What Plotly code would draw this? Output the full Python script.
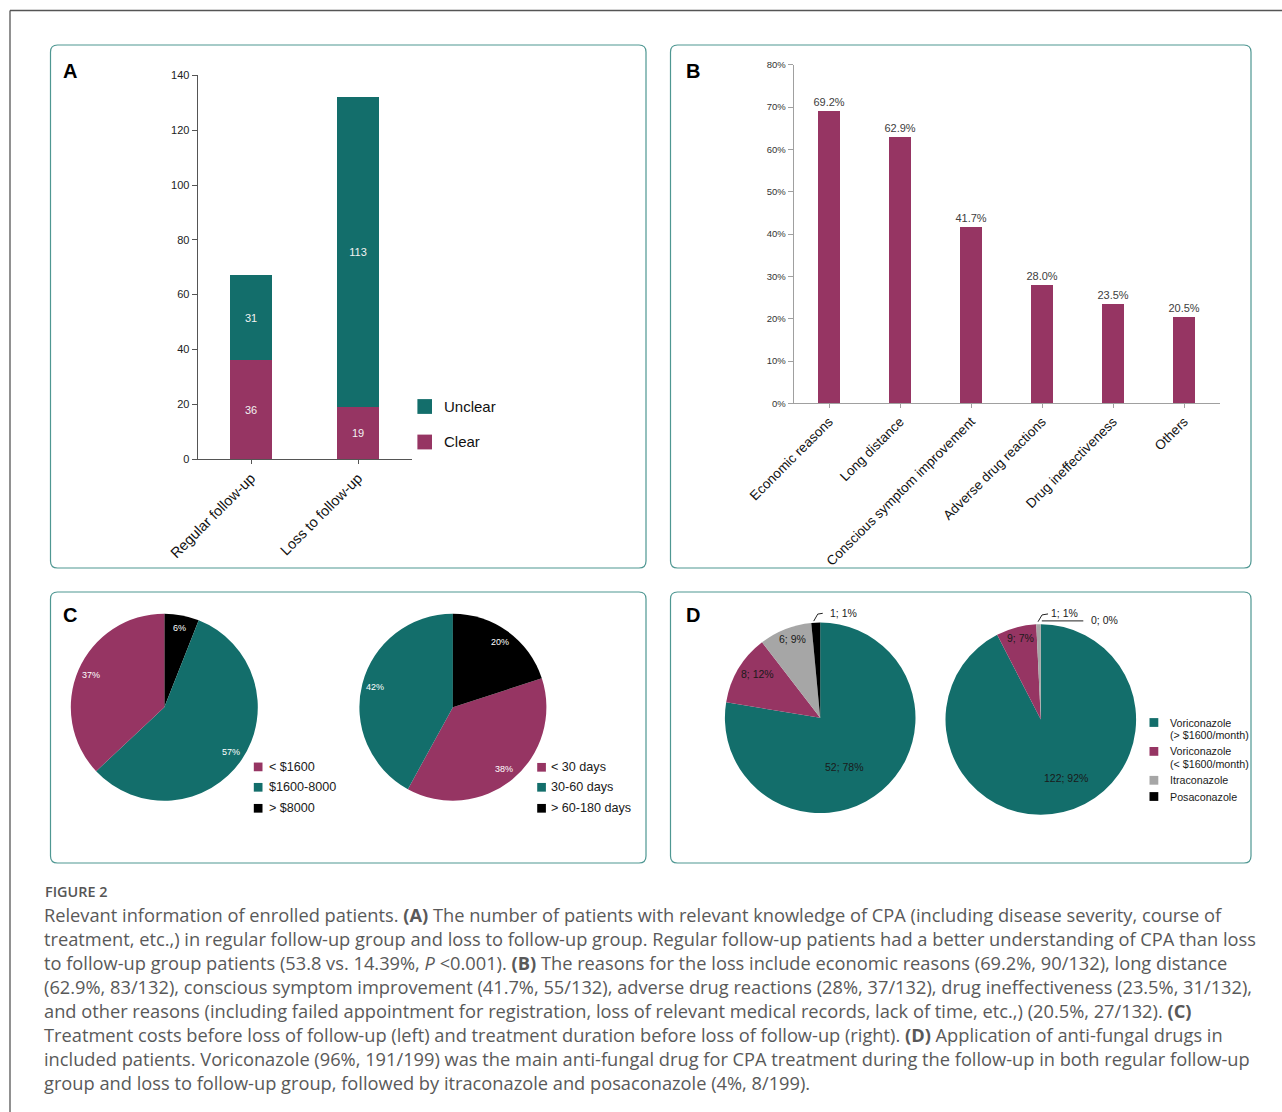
import math
import plotly.graph_objects as go

W, H = 1282, 1112

# ---------------- data ----------------
a_groups = ["Regular follow-up", "Loss to follow-up"]
a_clear = [36, 19]
a_unclear = [31, 113]

b_reasons = ["Economic reasons", "Long distance", "Conscious symptom improvement",
             "Adverse drug reactions", "Drug ineffectiveness", "Others"]
b_share = [0.692, 0.629, 0.417, 0.280, 0.235, 0.205]

c_cost_labels = ["&lt; $1600", "$1600-8000", "&gt; $8000"]
c_cost_pct = [37, 57, 6]
c_dur_labels = ["&lt; 30 days", "30-60 days", "&gt; 60-180 days"]
c_dur_pct = [38, 42, 20]

d_drug_labels = ["Voriconazole<br>(&gt; $1600/month)", "Voriconazole<br>(&lt; $1600/month)",
                 "Itraconazole", "Posaconazole"]
d_regular = [52, 8, 6, 1]
d_loss = [122, 9, 1, 0]

caption_title = "FIGURE 2"
caption_lines = [
    "Relevant information of enrolled patients. <b>(A)</b> The number of patients with relevant knowledge of CPA (including disease severity, course of",
    "treatment, etc.,) in regular follow-up group and loss to follow-up group. Regular follow-up patients had a better understanding of CPA than loss",
    "to follow-up group patients (53.8 vs. 14.39%, <i>P</i> &lt;0.001). <b>(B)</b> The reasons for the loss include economic reasons (69.2%, 90/132), long distance",
    "(62.9%, 83/132), conscious symptom improvement (41.7%, 55/132), adverse drug reactions (28%, 37/132), drug ineffectiveness (23.5%, 31/132),",
    "and other reasons (including failed appointment for registration, loss of relevant medical records, lack of time, etc.,) (20.5%, 27/132). <b>(C)</b>",
    "Treatment costs before loss of follow-up (left) and treatment duration before loss of follow-up (right). <b>(D)</b> Application of anti-fungal drugs in",
    "included patients. Voriconazole (96%, 191/199) was the main anti-fungal drug for CPA treatment during the follow-up in both regular follow-up",
    "group and loss to follow-up group, followed by itraconazole and posaconazole (4%, 8/199).",
]

# ---------------- styles ----------------
TEAL = "#136e6b"
MAG = "#963563"
GRAY = "#a6a6a6"
BLACK = "#000000"
BORDER = "#4e9792"
ARIAL = "Liberation Sans, Arial, sans-serif"
CAP_FONT = "Open Sans, Noto Sans, sans-serif"

c_colors = [MAG, TEAL, BLACK]
d_colors = [TEAL, MAG, GRAY, BLACK]


def px(x):
    return x / W


def py(y):
    return 1 - y / H


shapes = []
annotations = []

# outer frame lines
shapes.append(dict(type="line", xref="paper", yref="paper", x0=px(10), x1=1, y0=py(10.5), y1=py(10.5),
                   line=dict(color="#555555", width=1.3)))
shapes.append(dict(type="line", xref="paper", yref="paper", x0=px(10), x1=px(10), y0=py(10.5), y1=0,
                   line=dict(color="#555555", width=1.3)))


def rrect(x0, y0, x1, y1, r):
    def P(x, y):
        return f"{px(x):.6f},{py(y):.6f}"
    return (f"M {P(x0 + r, y0)} L {P(x1 - r, y0)} Q {P(x1, y0)} {P(x1, y0 + r)} "
            f"L {P(x1, y1 - r)} Q {P(x1, y1)} {P(x1 - r, y1)} L {P(x0 + r, y1)} "
            f"Q {P(x0, y1)} {P(x0, y1 - r)} L {P(x0, y0 + r)} Q {P(x0, y0)} {P(x0 + r, y0)} Z")


panels = {"A": (50.5, 45, 646, 568), "B": (670.5, 45, 1251, 568),
          "C": (50.5, 592, 646, 863), "D": (670.5, 592, 1251, 863)}
panel_letter_pos = {"A": (60.5, 71), "B": (684, 71), "C": (60.5, 614.5), "D": (684, 614.5)}
for k, (x0, y0, x1, y1) in panels.items():
    shapes.append(dict(type="path", xref="paper", yref="paper", path=rrect(x0, y0, x1, y1, 7),
                       line=dict(color=BORDER, width=1.2), fillcolor="rgba(0,0,0,0)"))
    lx, ly = panel_letter_pos[k]
    annotations.append(dict(xref="paper", yref="paper", x=px(lx), y=py(ly), xanchor="left", yanchor="middle",
                            text=f"<b>{k}</b>", showarrow=False,
                            font=dict(family=ARIAL, size=20, color="#000")))

fig = go.Figure()

# ---------------- panel A ----------------
fig.add_trace(go.Bar(x=a_groups, y=a_clear, name="Clear", marker=dict(color=MAG, line=dict(width=0)),
                     width=0.4, text=a_clear, texttemplate="%{text}", textposition="inside",
                     insidetextanchor="middle", textangle=0, constraintext="none",
                     textfont=dict(family=ARIAL, size=11, color="#f2f2f2"),
                     xaxis="x", yaxis="y", showlegend=False))
fig.add_trace(go.Bar(x=a_groups, y=a_unclear, name="Unclear", marker=dict(color=TEAL, line=dict(width=0)),
                     width=0.4, text=a_unclear, texttemplate="%{text}", textposition="inside",
                     insidetextanchor="middle", textangle=0, constraintext="none",
                     textfont=dict(family=ARIAL, size=11, color="#f2f2f2"),
                     xaxis="x", yaxis="y", showlegend=False))

# legend A
a_leg = [("Unclear", TEAL, 406.5), ("Clear", MAG, 442)]
for lab, col, yc in a_leg:
    shapes.append(dict(type="rect", xref="paper", yref="paper", x0=px(417.4), x1=px(432),
                       y0=py(yc + 7.4), y1=py(yc - 7.4), fillcolor=col, line=dict(width=0)))
    annotations.append(dict(xref="paper", yref="paper", x=px(441.5), y=py(yc), xanchor="left", yanchor="middle",
                            text=lab, showarrow=False, font=dict(family=ARIAL, size=15, color="#111")))

# ---------------- panel B ----------------
fig.add_trace(go.Bar(x=b_reasons, y=b_share, marker=dict(color=MAG, line=dict(width=0)), width=0.31,
                     texttemplate="%{y:.1%}", textposition="outside", cliponaxis=False, constraintext="none",
                     textfont=dict(family=ARIAL, size=11, color="#404040"),
                     xaxis="x2", yaxis="y2", showlegend=False))

# ---------------- pies ----------------
pie_geo = {
    "c1": (164.3, 707.2, 93.5),
    "c2": (452.9, 707.2, 93.5),
    "d1": (820.2, 717.8, 95.3),
    "d2": (1040.8, 719.5, 95.3),
}


def pie_domain(key):
    cx, cy, r = pie_geo[key]
    return dict(x=[px(cx - r), px(cx + r)], y=[py(cy + r), py(cy - r)])


def mid_angles(values, rotation):
    # clockwise from 12 o'clock
    total = float(sum(values))
    out, cum = [], 0.0
    for v in values:
        mid = (cum + v / 2.0) / total * 360.0
        out.append((rotation + mid) % 360)
        cum += v
    return out


def polar(key, ang, f):
    cx, cy, r = pie_geo[key]
    a = math.radians(ang)
    return cx + f * r * math.sin(a), cy - f * r * math.cos(a)


# (key, values, colors, rotation) ; all drawn clockwise
pies = [
    ("c1", c_cost_pct[::-1], c_colors[::-1], 0),
    ("c2", c_dur_pct, c_colors, 72),
    ("d1", d_regular, d_colors, 0),
    ("d2", d_loss, d_colors, 0),
]
for key, vals, cols, rot in pies:
    fig.add_trace(go.Pie(values=vals, marker=dict(colors=cols, line=dict(width=0)), sort=False,
                         direction="clockwise", rotation=rot,
                         textinfo="none", domain=pie_domain(key), showlegend=False, hoverinfo="value+percent"))

# C pie labels (white, near outer edge)
for key, vals, cols, rot in pies[:2]:
    for v, ang in zip(vals, mid_angles(vals, rot)):
        x, y = polar(key, ang, 0.86)
        annotations.append(dict(xref="paper", yref="paper", x=px(x), y=py(y), xanchor="center", yanchor="middle",
                                text=f"{v}%", showarrow=False, font=dict(family=ARIAL, size=9, color="#ffffff")))

# D pie labels
d_inside = {  # slice index -> (radial fraction, angle shift)
    "d1": {0: (0.58, 13.7), 1: (0.80, 4.1), 2: (0.88, 2.0)},
    "d2": {0: (0.67, -9.4), 1: (0.88, 1.2)},
}
d_outside = {  # slice index -> leader offsets from edge point, text gap
    "d1": {3: ([(-2, -1.5), (2, -8.5), (7, -9.3)], 5.5)},
    "d2": {2: ([(-0.5, -2.5), (3.5, -9.3), (9.5, -10.3)], 1.0),
           3: ([(1, -3.3), (42.5, -3.3)], 6.0)},
}
for key, vals in (("d1", d_regular), ("d2", d_loss)):
    total = sum(vals)
    angs = mid_angles(vals, 0)
    for i, (v, ang) in enumerate(zip(vals, angs)):
        txt = f"{v}; {round(100.0 * v / total):.0f}%"
        if i in d_inside[key]:
            f, sh = d_inside[key][i]
            x, y = polar(key, ang + sh, f)
            annotations.append(dict(xref="paper", yref="paper", x=px(x), y=py(y), xanchor="center",
                                    yanchor="middle", text=txt, showarrow=False,
                                    font=dict(family=ARIAL, size=10.5, color="#1a1a1a")))
        else:
            offs, gap = d_outside[key][i]
            ex, ey = polar(key, ang, 1.0)
            pts = [(ex + dx, ey + dy) for dx, dy in offs]
            path = "M " + " L ".join(f"{px(a):.6f},{py(b):.6f}" for a, b in pts)
            shapes.append(dict(type="path", xref="paper", yref="paper", path=path,
                               line=dict(color="#222", width=1), fillcolor="rgba(0,0,0,0)"))
            lx, ly = pts[-1]
            annotations.append(dict(xref="paper", yref="paper", x=px(lx + gap), y=py(ly - 0.7), xanchor="left",
                                    yanchor="middle", text=txt, showarrow=False,
                                    font=dict(family=ARIAL, size=10.5, color="#1a1a1a")))


def square_legend(x_sq, size, x_txt, y_rows, labels, colors, fsize, line_step=12.7):
    for lab, col, yc in zip(labels, colors, y_rows):
        shapes.append(dict(type="rect", xref="paper", yref="paper", x0=px(x_sq), x1=px(x_sq + size),
                           y0=py(yc + size / 2), y1=py(yc - size / 2), fillcolor=col, line=dict(width=0)))
        for j, part in enumerate(lab.split("<br>")):
            annotations.append(dict(xref="paper", yref="paper", x=px(x_txt), y=py(yc + j * line_step),
                                    xanchor="left", yanchor="middle", text=part, showarrow=False,
                                    font=dict(family=ARIAL, size=fsize, color="#1a1a1a")))


square_legend(253.8, 8.7, 266.5, [766.9, 787.3, 808.3], c_cost_labels, c_colors, 12.6)
square_legend(537.2, 8.7, 548.5, [767.3, 787.3, 808.3], c_dur_labels, c_colors, 12.6)

d_rows = []
yy = 722.5
for lab in d_drug_labels:
    d_rows.append(yy)
    yy += 16.2 + 12.7 * (len(lab.split("<br>")) - 1)
square_legend(1149.5, 8.8, 1167.5, d_rows, d_drug_labels, d_colors, 10.7)

# ---------------- caption ----------------
annotations.append(dict(xref="paper", yref="paper", x=px(43), y=py(891.3), xanchor="left", yanchor="middle",
                        text=caption_title, showarrow=False,
                        font=dict(family=CAP_FONT, size=14.4, color="#555555", weight=600)))
for i, line in enumerate(caption_lines):
    annotations.append(dict(xref="paper", yref="paper", x=px(42), y=py(914.5 + 24 * i), xanchor="left",
                            yanchor="middle", text=line, showarrow=False,
                            font=dict(family=CAP_FONT, size=18.25, color="#595959")))

# ---------------- layout ----------------
axis_common = dict(showgrid=False, zeroline=False, showline=True, ticks="outside", automargin=False)
fig.update_layout(
    width=W, height=H, margin=dict(l=0, r=0, t=0, b=0, pad=0, autoexpand=False),
    paper_bgcolor="white", plot_bgcolor="rgba(0,0,0,0)",
    barmode="stack", showlegend=False,
    font=dict(family=ARIAL, color="#222"),
    xaxis=dict(domain=[px(197.6), px(411.5)], anchor="y", range=[-0.5, 1.5], type="category",
               linecolor="#555", linewidth=1, tickcolor="#555", ticklen=4, tickangle=-45,
               tickfont=dict(family=ARIAL, size=14.5, color="#111"), **axis_common),
    yaxis=dict(domain=[py(459), py(75.4)], anchor="x", range=[0, 140], dtick=20,
               linecolor="#555", linewidth=1, tickcolor="#555", ticklen=5,
               tickfont=dict(family=ARIAL, size=11, color="#222"), **axis_common),
    xaxis2=dict(domain=[px(793.6), px(1219.6)], anchor="y2", range=[-0.5, 5.5], type="category",
                linecolor="#a0a0a0", linewidth=1, tickcolor="#a0a0a0", ticklen=4, tickangle=-45,
                tickfont=dict(family=ARIAL, size=13.5, color="#111"), **axis_common),
    yaxis2=dict(domain=[py(403.4), py(64.8)], anchor="x2", range=[0, 0.8], dtick=0.1, tickformat=".0%",
                linecolor="#a0a0a0", linewidth=1, tickcolor="#a0a0a0", ticklen=5,
                tickfont=dict(family=ARIAL, size=9.5, color="#333"), **axis_common),
    shapes=shapes,
    annotations=annotations,
)

fig.write_html("out.html", config={"displayModeBar": False},
               post_script="document.body.style.margin='0';document.body.style.overflow='hidden';")
